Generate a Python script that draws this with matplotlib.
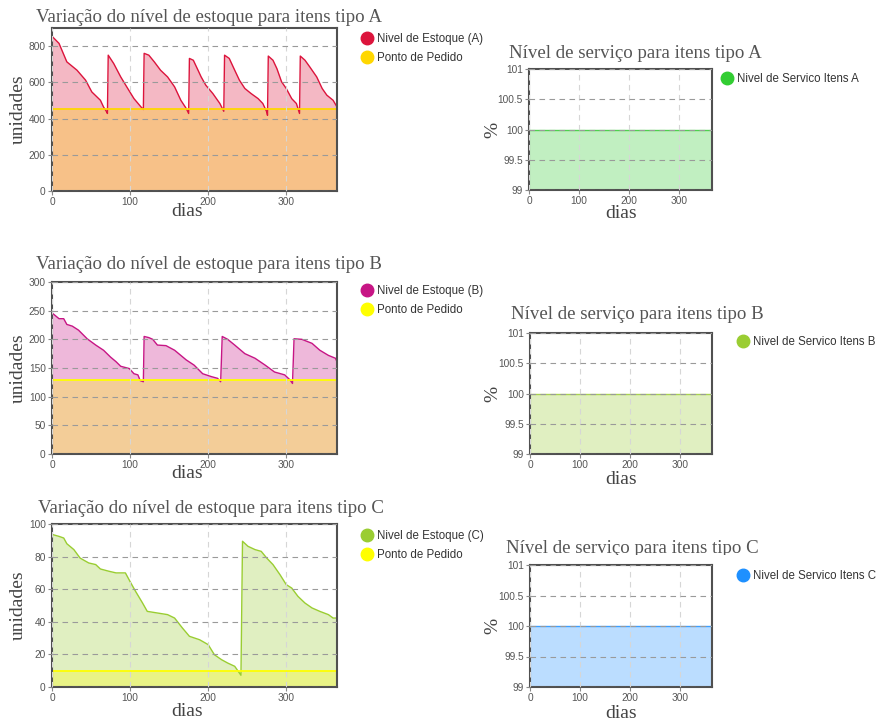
import matplotlib
matplotlib.use("Agg")
import matplotlib.pyplot as plt
from matplotlib.lines import Line2D
from matplotlib.transforms import Bbox, TransformedBbox


# ==========================
# dados
# ==========================
dias_a = [0, 1, 9, 19, 32, 43, 51, 62, 66, 70, 71,
          72, 79, 88, 97, 105, 114, 117,
          118, 124, 131, 139, 148, 157, 165, 172, 175,
          176, 181, 187, 191, 197, 206, 215, 220,
          221, 227, 234, 240, 247, 255, 264, 270, 275, 276,
          277, 283, 288, 294, 300, 307, 313, 317,
          318, 324, 330, 339, 346, 352, 360, 365]
estoque_a = [855, 850, 815, 713, 667, 612, 547, 501, 464, 437, 428,
             750, 704, 630, 566, 510, 464, 450,
             760, 750, 713, 667, 630, 575, 501, 455, 428,
             732, 722, 667, 630, 584, 538, 483, 440,
             750, 732, 667, 612, 566, 538, 510, 483, 437, 418,
             745, 722, 676, 603, 566, 510, 483, 428,
             745, 722, 686, 630, 566, 529, 501, 464]
ponto_a = 455

dias_b = [0, 1, 9, 15, 19, 26, 34, 45, 56, 66,
          75, 82, 88, 99, 105, 110, 113, 117,
          118, 124, 129, 135, 146, 157, 172, 182, 193, 204, 212, 216,
          218, 225, 234, 247, 260, 273, 285, 298, 305, 308,
          310, 320, 333, 343, 354, 363, 365]
estoque_b = [246, 245, 236, 236, 226, 223, 216, 201, 190, 181,
             169, 161, 153, 149, 140, 138, 128, 126,
             205, 203, 200, 190, 189, 181, 164, 155, 140, 135, 132, 126,
             205, 200, 190, 175, 167, 155, 143, 138, 129, 123,
             201, 200, 193, 181, 172, 167, 161]
ponto_b = 129

dias_c = [0, 1, 9, 15, 19, 28, 36, 47, 56, 62,
          73, 82, 94, 101, 107, 116, 122, 135, 148, 157,
          167, 176, 189, 200, 208, 217, 225, 234, 240, 242,
          244, 251, 260, 268, 275, 283, 292, 300, 307, 315,
          324, 333, 343, 354, 360, 365]
estoque_c = [93.5, 93.5, 92.4, 91.4, 87.9, 84.3, 79.1, 76.1, 75.1, 72.4,
             71, 70, 70, 63.8, 58.7, 51.5, 46.4, 45.4, 44.4, 42.3,
             36.2, 31.1, 29, 26, 19.8, 16.8, 14.7, 12.7, 8.6, 7.2,
             89.4, 86.3, 84.3, 83.2, 79.1, 75.1, 68.9, 62.8, 60.7, 55.6,
             51.5, 48.5, 46.4, 44.4, 42.3, 42.3]
ponto_c = 10

dias_servico = [0, 365]
servico_a = [100, 100]
servico_b = [100, 100]
servico_c = [100, 100]

x_ticks = [0, 100, 200, 300]
servico_ticks = [99, 99.5, 100, 100.5, 101]
servico_tick_labels = ["99", "99.5", "100", "100.5", "101"]

# ==========================
# estilo
# ==========================
W, H = 884, 723
SERIF = "Liberation Serif"
SANS = "Liberation Sans"
TITLE_COLOR = "#555555"
TICK_COLOR = "#555555"

fig = plt.figure(figsize=(W / 100, H / 100), dpi=100)


def px_axes(l, t, r, b):
    # caixa em pixels (origem no canto superior esquerdo) -> fração da figura
    return fig.add_axes([l / W, 1 - b / H, (r - l) / W, (b - t) / H])


def style_axes(ax, ylim, yticks, yticklabels=None):
    ax.set_xlim(0, 365)
    ax.set_ylim(*ylim)
    ax.set_xticks(x_ticks)
    ax.set_yticks(yticks)
    if yticklabels is not None:
        ax.set_yticklabels(yticklabels)
    ax.set_axisbelow(False)
    ax.yaxis.grid(True, color="#9a9a9a", linestyle=(0, (5, 4)), linewidth=0.8)
    ax.xaxis.grid(True, color="#d6d6d6", linestyle=(0, (5, 4)), linewidth=0.8)
    for sp in ax.spines.values():
        sp.set_color("#505050")
        sp.set_linewidth(1.5)
    ax.tick_params(length=3, width=0.8, color="#888888", labelsize=7.3,
                   labelcolor=TICK_COLOR, pad=1.5)
    for lab in ax.get_xticklabels() + ax.get_yticklabels():
        lab.set_family(SANS)


def put_legend(ax, handles, labels, x, y):
    # x, y: posição (pixels) do centro do primeiro marcador
    fs = 8.3
    fpx = fs * 100 / 72
    leg = ax.legend(handles, labels, loc="upper left", frameon=False,
                    bbox_to_anchor=((x - 0.5 * fpx) / W, 1 - (y - 0.62 * fpx) / H),
                    bbox_transform=fig.transFigure,
                    prop={"family": SANS, "size": fs},
                    handlelength=1.0, handletextpad=0.37, labelspacing=0.62,
                    borderpad=0, borderaxespad=0)
    for t in leg.get_texts():
        t.set_color("#333333")
    return leg


def marker(color):
    return Line2D([], [], linestyle="none", marker="o", markersize=9,
                  markerfacecolor=color, markeredgecolor=color)


def label_px(ax, box, xlab, ylab, xlab_pos, ylab_pos):
    l, t, r, b = box
    ax.set_xlabel(xlab, family=SERIF, fontsize=14, color="#444444")
    ax.set_ylabel(ylab, family=SERIF, fontsize=14, color="#444444")
    ax.xaxis.label.set_va("center")
    ax.yaxis.label.set_va("center")
    ax.xaxis.set_label_coords((xlab_pos[0] - l) / (r - l), (b - xlab_pos[1]) / (b - t))
    ax.yaxis.set_label_coords((ylab_pos[0] - l) / (r - l), (b - ylab_pos[1]) / (b - t))


def title_px(text, x, y, clip_y=None):
    t = fig.text(x / W, 1 - y / H, text, family=SERIF, fontsize=13.6,
                 color=TITLE_COLOR, va="baseline", ha="left")
    if clip_y is not None:
        t.set_clip_on(True)
        t.set_clip_box(TransformedBbox(Bbox.from_extents(0, 1 - clip_y / H, 1, 1),
                                       fig.transFigure))
    return t


# ==========================
# estoque (esquerda)
# ==========================
painel_estoque = [
    ("A", (52, 28, 337, 191), dias_a, estoque_a, ponto_a, "#dc143c", "#ffd700",
     (0, 900), list(range(0, 801, 200)), (36, 22), (367, 40), (187, 212)),
    ("B", (52, 282, 337, 454), dias_b, estoque_b, ponto_b, "#c71585", "#ffff00",
     (0, 300), list(range(0, 301, 50)), (36, 269), (367, 292), (187, 473)),
    ("C", (52, 524, 337, 687), dias_c, estoque_c, ponto_c, "#9acd32", "#ffff00",
     (0, 100), list(range(0, 101, 20)), (38, 513), (367, 537), (187, 711)),
]

for nome, box, dias, estoque, ponto, cor, cor_ponto, ylim, yticks, tpos, lpos, dpos in painel_estoque:
    ax = px_axes(*box)
    ax.fill_between(dias, estoque, 0, color=cor, alpha=0.3, linewidth=0)
    ax.fill_between(dias_servico, [ponto, ponto], 0, color=cor_ponto, alpha=0.3, linewidth=0)
    ax.plot(dias, estoque, color=cor, linewidth=1.0)
    ax.plot(dias_servico, [ponto, ponto], color=cor_ponto, linewidth=1.3)
    style_axes(ax, ylim, yticks)
    label_px(ax, box, "dias", "unidades", dpos, (18, (box[1] + box[3]) / 2))
    title_px(f"Variação do nível de estoque para itens tipo {nome}", *tpos)
    put_legend(ax, [marker(cor), marker(cor_ponto)],
               [f"Nivel de Estoque ({nome})", "Ponto de Pedido"], *lpos)

# ==========================
# nível de serviço (direita)
# ==========================
painel_servico = [
    ("A", (529, 69, 712, 190), servico_a, "#32cd32", (509, 58), (727, 80), (621, 213), None),
    ("B", (530, 333, 712, 454), servico_b, "#9acd32", (511, 319), (743, 343), (621, 480), None),
    ("C", (530, 565, 712, 687), servico_c, "#1e90ff", (506, 553), (743, 577), (621, 714), 555),
]

for nome, box, servico, cor, tpos, lpos, dpos, clip in painel_servico:
    ax = px_axes(*box)
    ax.fill_between(dias_servico, servico, 99, color=cor, alpha=0.3, linewidth=0)
    ax.plot(dias_servico, servico, color=cor, linewidth=1.0, alpha=0.8)
    style_axes(ax, (99, 101), servico_ticks, servico_tick_labels)
    label_px(ax, box, "dias", "%", dpos, (493, (box[1] + box[3]) / 2))
    title_px(f"Nível de serviço para itens tipo {nome}", *tpos, clip_y=clip)
    put_legend(ax, [marker(cor)], [f"Nivel de Servico Itens {nome}"], *lpos)

fig.savefig("out.png", dpi=100)
